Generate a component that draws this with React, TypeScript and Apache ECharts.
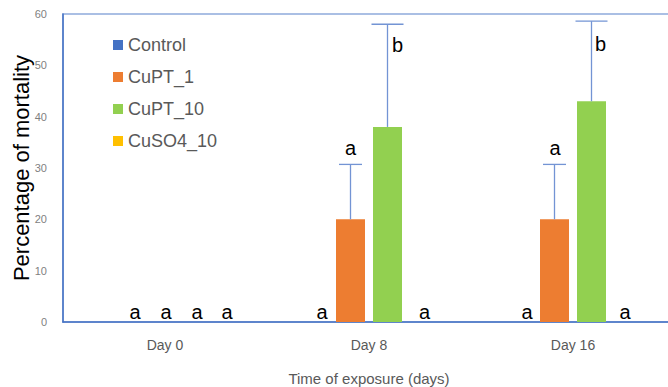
import React, { useEffect, useRef } from 'react';
import * as echarts from 'echarts';

// ---------- data ----------
const categories = ['Day 0', 'Day 8', 'Day 16'];
const seriesNames = ['Control', 'CuPT_1', 'CuPT_10', 'CuSO4_10'];
const controlValues = [0, 0, 0];
const cupt1Values = [0, 20, 20];
const cupt10Values = [0, 38, 43];
const cuso4Values = [0, 0, 0];
const controlErrors = [0, 0, 0];
const cupt1Errors = [0, 10.7, 10.7];
const cupt10Errors = [0, 20, 15.6];
const cuso4Errors = [0, 0, 0];
const controlLetters = ['a', 'a', 'a'];
const cupt1Letters = ['a', 'a', 'a'];
const cupt10Letters = ['a', 'b', 'b'];
const cuso4Letters = ['a', 'a', 'a'];
const yMin = 0;
const yMax = 60;
const yStep = 10;

// ---------- styles ----------
const allValues = [controlValues, cupt1Values, cupt10Values, cuso4Values];
const allErrors = [controlErrors, cupt1Errors, cupt10Errors, cuso4Errors];
const allLetters = [controlLetters, cupt1Letters, cupt10Letters, cuso4Letters];
const colors = ['#4472C4', '#ED7D31', '#92D050', '#FFC000'];
const BAR_W = 29;
const BAR_STEP = 37;
const ERR_COLOR = '#7394d4';
const capWidths = [23, 23, 32, 23];
// annotation offsets in px, relative to bar centre / whisker top
const letterDx = [
  [25.5, 8.5, 9.5],
  [19.5, 0, 0.5],
  [13.5, 10, 9],
  [6.5, 0, -3.5],
];
const letterDy = [
  [-8.5, -8.5, -8.5],
  [-8.5, -15, -15],
  [-8.5, 20.7, 23.3],
  [-8.5, -8.5, -8.5],
];
const FONT = "'Liberation Sans', Arial, sans-serif";

export default function App() {
  const ref = useRef<HTMLDivElement>(null);
  useEffect(() => {
    if (!ref.current) return;
    const chart = echarts.init(ref.current, undefined, { renderer: 'svg' });

    const barSeries = seriesNames.map((name, si) => ({
      name,
      type: 'bar',
      data: allValues[si],
      barWidth: BAR_W,
      barGap: ((BAR_STEP - BAR_W) / BAR_W) * 100 + '%',
      itemStyle: { color: colors[si] },
      z: 2,
    }));

    const errSeries = seriesNames.map((name, si) => ({
      name: name + '_err',
      type: 'custom',
      z: 5,
      silent: true,
      clip: false,
      encode: { x: 0, y: 2 },
      data: categories.map((_, i) => [i, allValues[si][i], allValues[si][i] + allErrors[si][i]]),
      renderItem: (params: any, api: any) => {
        const i = api.value(0);
        const val = api.value(1);
        const upper = api.value(2);
        const base = api.coord([i, val]);
        const top = api.coord([i, upper]);
        const x = base[0] + (si - 1.5) * BAR_STEP;
        const children: any[] = [];
        if (upper > val) {
          const cap = capWidths[si];
          children.push({
            type: 'line',
            shape: { x1: x, y1: base[1], x2: x, y2: top[1] },
            style: { stroke: ERR_COLOR, lineWidth: 1.3 },
          });
          children.push({
            type: 'line',
            shape: { x1: x - cap / 2, y1: top[1], x2: x + cap / 2, y2: top[1] },
            style: { stroke: ERR_COLOR, lineWidth: 1.3 },
          });
        }
        const letter = allLetters[si][params.dataIndex];
        const shift = letter === 'a' ? -1.7 : 0;
        children.push({
          type: 'text',
          x: x + letterDx[si][params.dataIndex],
          y: top[1] + letterDy[si][params.dataIndex] + shift,
          style: {
            text: letter,
            fontSize: 20,
            fontFamily: FONT,
            fill: '#000',
            align: 'center',
            verticalAlign: 'middle',
          },
        });
        return { type: 'group', children };
      },
    }));

    chart.setOption({
      animation: false,
      backgroundColor: '#fff',
      textStyle: { fontFamily: FONT },
      grid: {
        left: 63,
        top: 14,
        width: 612,
        height: 308,
        containLabel: false,
        outerBoundsMode: 'none',
        show: true,
        borderColor: '#8eaadb',
        borderWidth: 1.5,
        backgroundColor: 'transparent',
      },
      legend: {
        data: seriesNames,
        orient: 'vertical',
        left: 108,
        top: 30,
        icon: 'rect',
        itemWidth: 10,
        itemHeight: 10,
        itemGap: 12,
        textStyle: { fontSize: 18, color: '#595959', fontFamily: FONT, lineHeight: 20 },
      },
      xAxis: {
        type: 'category',
        data: categories,
        axisLine: { lineStyle: { color: '#4472C4', width: 1.5 } },
        axisTick: { show: false },
        axisLabel: { color: '#595959', fontSize: 14, margin: 16, fontFamily: FONT },
        name: 'Time of exposure (days)',
        nameLocation: 'middle',
        nameGap: 49,
        nameMoveOverlap: false,
        nameTextStyle: { fontSize: 15, color: '#595959', fontFamily: FONT },
      },
      yAxis: {
        type: 'value',
        min: yMin,
        max: yMax,
        interval: yStep,
        axisLine: { show: true, lineStyle: { color: '#4472C4', width: 1.5 } },
        axisTick: { show: false },
        splitLine: { show: false },
        axisLabel: { color: '#7f7f7f', fontSize: 11, margin: 16, fontFamily: FONT },
        name: 'Percentage of mortality',
        nameLocation: 'middle',
        nameGap: 31,
        nameMoveOverlap: false,
        nameTextStyle: { fontSize: 22, color: '#000', fontFamily: FONT },
      },
      series: [...barSeries, ...errSeries],
    });
    return () => chart.dispose();
  }, []);
  return (
    <div
      ref={ref}
      style={{ position: 'fixed', left: 0, top: 0, width: 668, height: 387, background: '#fff' }}
    />
  );
}
